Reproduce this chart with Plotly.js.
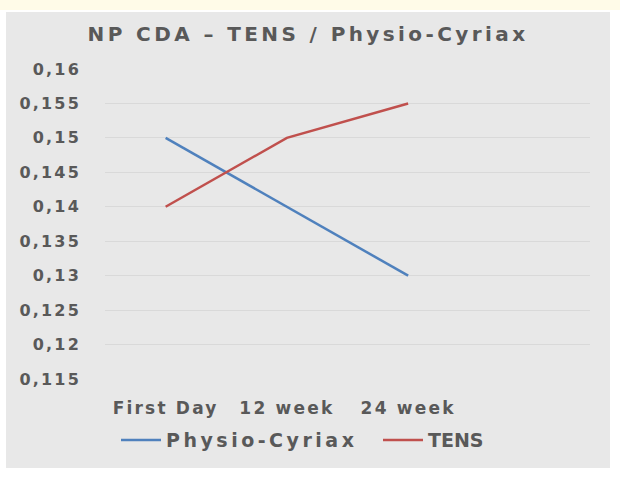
<!DOCTYPE html>
<html>
<head>
<meta charset="utf-8">
<script src="https://cdn.plot.ly/plotly-3.0.1.min.js"></script>
<style>
  html, body { margin:0; padding:0; background:#ffffff; width:620px; height:480px; overflow:hidden; }
  #strip { position:absolute; left:0; top:0; width:620px; height:10px; background:#fffbe8; }
  #chart { position:absolute; left:6px; top:12px; width:604px; height:456px; }
  .gtitle { letter-spacing: 3.4px; }
  .ytick text { letter-spacing: 2.2px; }
  .xtick text { letter-spacing: 2.2px; }
  .legendtext { letter-spacing: 3.5px; }
</style>
</head>
<body>
<div id="strip"></div>
<div id="chart"></div>
<script>
const categories = ["First Day", "12 week", "24 week"];
const physioCyriax = [0.15, 0.14, 0.13];
const tens = [0.14, 0.15, 0.155];
const yTickVals = [0.115, 0.12, 0.125, 0.13, 0.135, 0.14, 0.145, 0.15, 0.155, 0.16];
const yTickText = ["0,115", "0,12", "0,125", "0,13", "0,135", "0,14", "0,145", "0,15", "0,155", "0,16"];

const FONT = "DejaVu Sans, sans-serif";
const GREY = "#595959";

const traces = [
  { x: categories, y: physioCyriax, name: "Physio-Cyriax", type: "scatter", mode: "lines",
    line: { color: "#4f81bd", width: 2.5 }, legend: "legend" },
  { x: categories, y: tens, name: "TENS", type: "scatter", mode: "lines",
    line: { color: "#c0504d", width: 2.5 }, legend: "legend2" }
];

const legendBase = {
  orientation: "h", xref: "container", yref: "container", xanchor: "left",
  y: 0.061, yanchor: "middle", bgcolor: "rgba(0,0,0,0)",
  font: { family: FONT, size: 19, color: GREY, weight: "bold" }, itemwidth: 40
};

const layout = {
  width: 604, height: 456,
  paper_bgcolor: "#e8e8e8", plot_bgcolor: "#e8e8e8",
  margin: { l: 99, r: 20, t: 57, b: 89, autoexpand: false },
  font: { family: FONT, color: GREY },
  title: { text: "<b>NP CDA – TENS / Physio-Cyriax</b>", font: { family: FONT, size: 20, color: GREY },
           x: 0.5, xanchor: "center", y: 0.952, yanchor: "middle", yref: "container" },
  xaxis: { type: "category", range: [-0.5, 3.5], showgrid: false, zeroline: false, showline: false,
           ticks: "", ticklabelstandoff: 17, automargin: false,
           tickfont: { family: FONT, size: 17, color: GREY, weight: "bold" } },
  yaxis: { range: [0.115, 0.16], tickvals: yTickVals, ticktext: yTickText, showgrid: true,
           gridcolor: "#d9d9d9", gridwidth: 1, zeroline: false, showline: false, ticks: "",
           ticklabelstandoff: 23, automargin: false,
           tickfont: { family: FONT, size: 16, color: GREY, weight: "bold" } },
  showlegend: true,
  legend: Object.assign({}, legendBase, { x: 110 / 604 }),
  legend2: Object.assign({}, legendBase, { x: 372 / 604 })
};

Plotly.newPlot("chart", traces, layout, { displayModeBar: false, staticPlot: true });
</script>
</body>
</html>
